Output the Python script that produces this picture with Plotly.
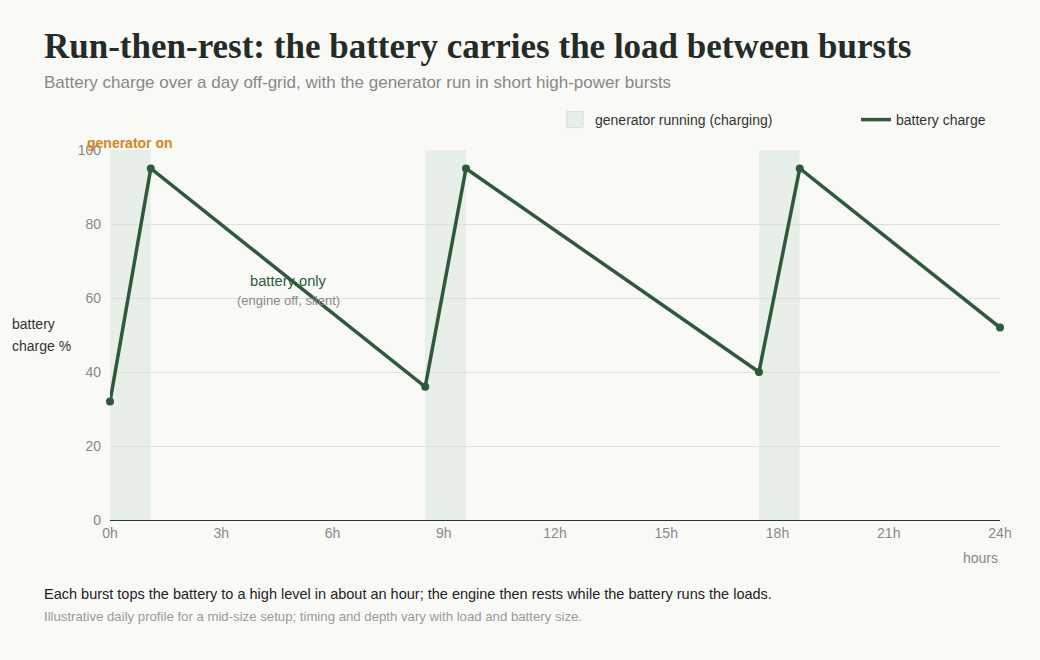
import plotly.graph_objects as go

# ---- data ----
hours = [0, 1.1, 8.5, 9.6, 17.5, 18.6, 24]
charge = [32, 95, 36, 95, 40, 95, 52]
gen_start = [0, 8.5, 17.5]
gen_end = [1.1, 9.6, 18.6]
x_ticks = [0, 3, 6, 9, 12, 15, 18, 21, 24]
x_tick_labels = [f"{h}h" for h in x_ticks]
y_ticks = [0, 20, 40, 60, 80, 100]

W, H = 1040, 660
L, R, T, B = 110, 40, 150, 140
PW, PH = W - L - R, H - T - B

def px(x):
    return (x - L) / PW

def py(y):
    return (H - B - y) / PH

BG = "#f9faf6"
LINE = "#2e5a3c"
BAND = "#e8efe8"

fig = go.Figure()

for s, e in zip(gen_start, gen_end):
    fig.add_shape(type="rect", xref="x", yref="y", x0=s, x1=e, y0=0, y1=100,
                  fillcolor=BAND, line=dict(width=0), layer="below")

# legend entry for the generator bands
fig.add_trace(go.Scatter(
    x=[None], y=[None], mode="markers", name="generator running (charging)", legend="legend",
    marker=dict(symbol="square", size=16, color=BAND, line=dict(color="#d5ddd5", width=1)),
    hoverinfo="skip"))

fig.add_trace(go.Scatter(
    x=hours, y=charge, mode="lines", name="battery charge", legend="legend2",
    line=dict(color=LINE, width=3.5), cliponaxis=False))
fig.add_trace(go.Scatter(
    x=hours, y=charge, mode="markers", name="battery charge", showlegend=False,
    marker=dict(color=LINE, size=8), cliponaxis=False))

leg_common = dict(orientation="h", yanchor="middle", xanchor="left", itemsizing="trace",
                  font=dict(size=14, color="#333"), bgcolor="rgba(0,0,0,0)", itemwidth=30)

fig.update_layout(
    width=W, height=H, margin=dict(l=L, r=R, t=T, b=B),
    paper_bgcolor=BG, plot_bgcolor=BG,
    font=dict(family="Liberation Sans, Arial, sans-serif", color="#333"),
    showlegend=True,
    legend=dict(x=px(555), y=py(120), **leg_common),
    legend2=dict(x=px(856), y=py(120), **leg_common),
    xaxis=dict(range=[0, 24], tickvals=x_ticks, ticktext=x_tick_labels,
               showgrid=False, zeroline=False, showline=True, linecolor="#333", linewidth=1,
               ticks="", tickfont=dict(size=14, color="#888")),
    yaxis=dict(range=[0, 100], tickvals=y_ticks, showgrid=True, gridcolor="#dde1da",
               zeroline=False, showline=False, ticks="", tickfont=dict(size=14, color="#888"),
               ticklabelstandoff=8),
)

ann = []
ann.append(dict(xref="paper", yref="paper", x=px(42), y=py(47), xanchor="left", yanchor="middle",
                text="<b>Run-then-rest: the battery carries the load between bursts</b>",
                showarrow=False, font=dict(family="Liberation Serif, serif", size=35, color="#252b26")))
ann.append(dict(xref="paper", yref="paper", x=px(42), y=py(82), xanchor="left", yanchor="middle",
                text="Battery charge over a day off-grid, with the generator run in short high-power bursts",
                showarrow=False, font=dict(size=17, color="#888")))
ann.append(dict(xref="paper", yref="paper", x=px(10), y=py(324), xanchor="left", yanchor="middle",
                text="battery", showarrow=False, font=dict(size=14, color="#333")))
ann.append(dict(xref="paper", yref="paper", x=px(10), y=py(346), xanchor="left", yanchor="middle",
                text="charge %", showarrow=False, font=dict(size=14, color="#333")))
ann.append(dict(xref="paper", yref="paper", x=1, y=py(558), xanchor="right", yanchor="middle",
                text="hours", showarrow=False, font=dict(size=14, color="#888")))
ann.append(dict(xref="x", yref="y", x=(gen_start[0] + gen_end[0]) / 2, y=100, yanchor="bottom",
                text="<b>generator on</b>", showarrow=False, yshift=-3,
                font=dict(size=14, color="#d4861a")))
ann.append(dict(xref="x", yref="y", x=4.8, y=64.6, yanchor="middle",
                text="battery only", showarrow=False, font=dict(size=14.7, color=LINE)))
ann.append(dict(xref="x", yref="y", x=4.8, y=59.2, yanchor="middle",
                text="(engine off, silent)", showarrow=False, font=dict(size=13, color="#888")))
ann.append(dict(xref="paper", yref="paper", x=px(42), y=py(594), xanchor="left", yanchor="middle",
                text="Each burst tops the battery to a high level in about an hour; the engine then rests while the battery runs the loads.",
                showarrow=False, font=dict(size=14.5, color="#222")))
ann.append(dict(xref="paper", yref="paper", x=px(42), y=py(616), xanchor="left", yanchor="middle",
                text="Illustrative daily profile for a mid-size setup; timing and depth vary with load and battery size.",
                showarrow=False, font=dict(size=13.2, color="#999")))
fig.update_layout(annotations=ann)

fig.write_html("out.html")
